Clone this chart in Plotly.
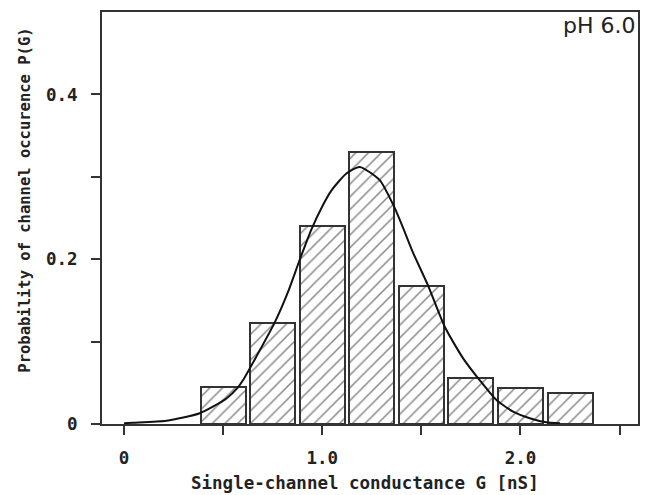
import plotly.graph_objects as go

# histogram of single-channel conductance, pH 6.0
bin_centers = [0.5, 0.75, 1.0, 1.25, 1.5, 1.75, 2.0, 2.25]
probability = [0.0445, 0.123, 0.2405, 0.3305, 0.168, 0.0562, 0.044, 0.038]

# fitted curve
fit_g = [0.0, 0.045, 0.214, 0.382, 0.517, 0.575, 0.600, 0.668, 0.760, 0.827, 0.886,
         0.945, 1.000, 1.045, 1.122, 1.189, 1.290, 1.366, 1.408, 1.458, 1.534, 1.618,
         1.710, 1.795, 1.879, 1.963, 2.047, 2.130, 2.200]
fit_p = [0.001, 0.0016, 0.004, 0.013, 0.031, 0.0445, 0.053, 0.082, 0.123, 0.160, 0.199,
         0.236, 0.264, 0.283, 0.304, 0.312, 0.296, 0.262, 0.238, 0.208, 0.168, 0.118,
         0.080, 0.053, 0.029, 0.015, 0.007, 0.002, 0.001]

x_ticks = [0, 0.5, 1.0, 1.5, 2.0, 2.5]
x_tick_text = ["0", "", "1.0", "", "2.0", ""]
y_ticks = [0, 0.1, 0.2, 0.3, 0.4]
y_tick_text = ["0", "", "0.2", "", "0.4"]

ink = "#333333"
mono = "DejaVu Sans Mono"

fig = go.Figure()

fig.add_trace(go.Bar(
    x=bin_centers,
    y=probability,
    width=0.227,
    marker=dict(
        color="white",
        line=dict(color=ink, width=2),
        pattern=dict(shape="/", size=9, solidity=0.17, fgcolor="#111111", bgcolor="white"),
    ),
    showlegend=False,
))

fig.add_trace(go.Scatter(
    x=fit_g,
    y=fit_p,
    mode="lines",
    line=dict(color="#111111", width=2, shape="spline", smoothing=0.6),
    showlegend=False,
))

axis_style = dict(
    showline=True, linewidth=2, linecolor=ink, mirror=True,
    ticks="outside", ticklen=9, tickwidth=2, tickcolor=ink,
    showgrid=False, zeroline=False,
    tickfont=dict(family=mono, size=17.5, color="#222222", weight="bold"),
)

fig.update_xaxes(range=[-0.111, 2.593], tickvals=x_ticks, ticktext=x_tick_text,
                 ticklabelstandoff=8, **axis_style)
fig.update_yaxes(range=[0, 0.5], tickvals=y_ticks, ticktext=y_tick_text,
                 ticklabelstandoff=10, **axis_style)

fig.add_annotation(text="pH 6.0", xref="paper", yref="paper", x=1, y=1,
                   xanchor="right", yanchor="top", showarrow=False, xshift=0, yshift=1,
                   font=dict(family="DejaVu Sans", size=22, color="#222222"))
fig.add_annotation(text="Single-channel conductance G [nS]", xref="paper", yref="paper",
                   x=0.491, y=-0.143, xanchor="center", yanchor="middle", showarrow=False,
                   font=dict(family=mono, size=17.5, color="#222222", weight="bold"))
fig.add_annotation(text="Probability of channel occurence P(G)", xref="paper", yref="paper",
                   x=-0.144, y=0.544, xanchor="center", yanchor="middle", showarrow=False,
                   textangle=-90,
                   font=dict(family=mono, size=15.5, color="#222222", weight="bold"))

fig.update_layout(
    width=645, height=495,
    margin=dict(l=102, r=7, t=12, b=71, autoexpand=False),
    plot_bgcolor="white", paper_bgcolor="white",
    bargap=0,
)

fig.write_html("out.html", config={"displayModeBar": False},
               post_script="document.body.style.margin='0px';")
